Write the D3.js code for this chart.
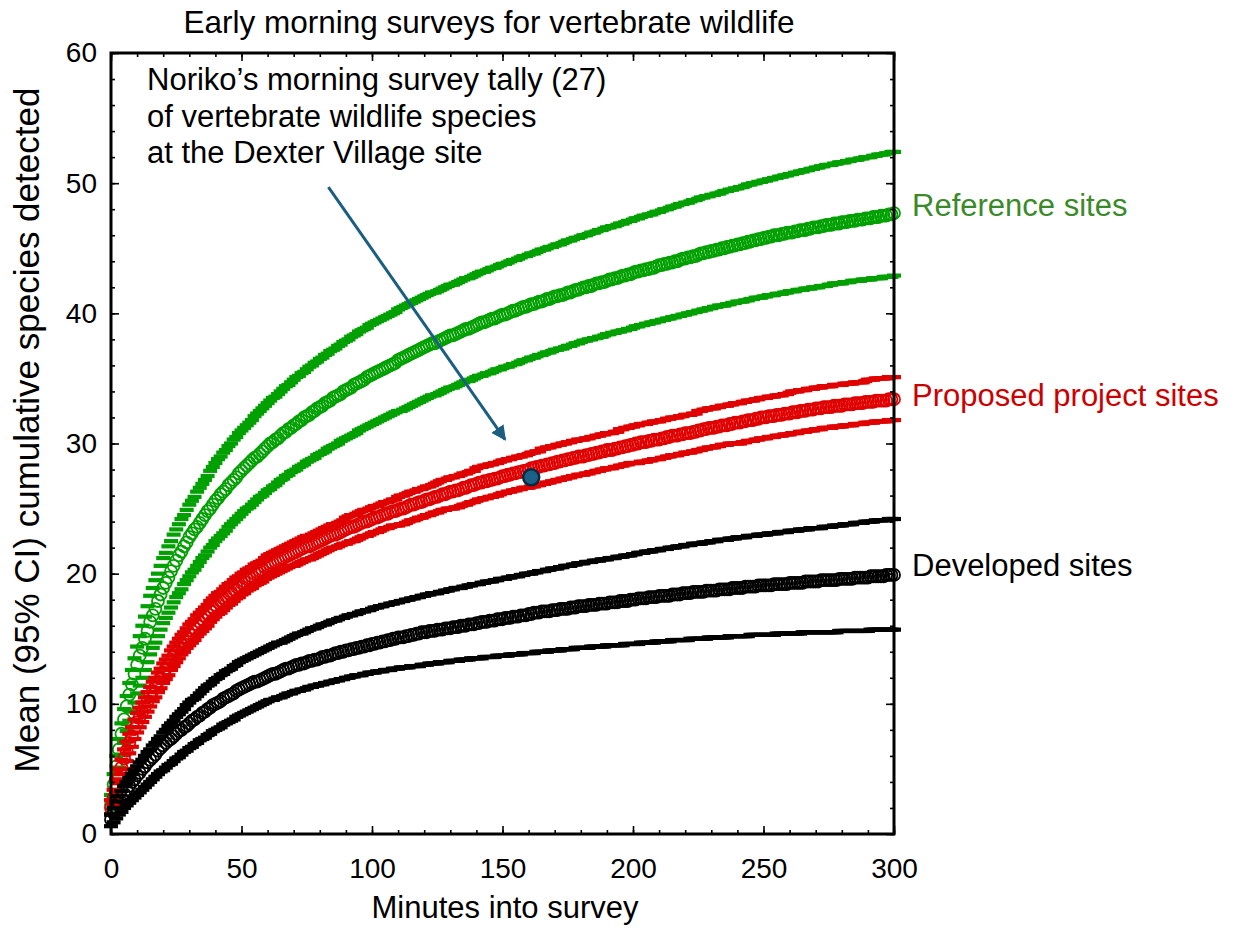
<!DOCTYPE html>
<html>
<head>
<meta charset="utf-8">
<title>Early morning surveys for vertebrate wildlife</title>
<script src="https://d3js.org/d3.v7.min.js"></script>
<style>
body { margin: 0; background: #ffffff; }
text { font-family: 'Liberation Sans', Arial, sans-serif; }
</style>
</head>
<body>
<script>
'use strict'

// cumulative species by minute (index = minute 0..300)
const refUpper = [3.0,4.6,6.0,7.3,8.5,9.6,10.6,11.6,12.6,13.5,14.4,
15.2,16.0,16.7,17.5,18.3,18.9,19.5,20.0,20.6,21.2,
21.6,22.1,22.5,23.0,23.4,23.8,24.2,24.5,24.9,25.3,
25.6,25.9,26.3,26.6,26.9,27.2,27.5,27.9,28.2,28.5,
28.8,29.0,29.3,29.5,29.8,30.0,30.3,30.5,30.8,31.0,
31.2,31.4,31.6,31.8,32.1,32.3,32.5,32.7,32.9,33.1,
33.3,33.5,33.6,33.8,34.0,34.2,34.4,34.5,34.7,34.9,
35.1,35.2,35.4,35.5,35.7,35.9,36.0,36.2,36.3,36.5,
36.6,36.8,36.9,37.1,37.2,37.3,37.5,37.6,37.8,37.9,
38.0,38.2,38.3,38.4,38.6,38.7,38.8,38.9,39.1,39.2,
39.3,39.4,39.5,39.6,39.7,39.8,39.9,40.0,40.1,40.3,
40.4,40.5,40.6,40.7,40.8,40.9,41.0,41.1,41.2,41.3,
41.4,41.5,41.6,41.6,41.7,41.8,41.9,42.0,42.1,42.2,
42.2,42.3,42.4,42.5,42.6,42.7,42.7,42.8,42.9,43.0,
43.1,43.2,43.2,43.3,43.4,43.5,43.5,43.6,43.7,43.8,
43.8,43.9,44.0,44.1,44.1,44.2,44.3,44.4,44.4,44.5,
44.6,44.6,44.7,44.8,44.9,44.9,45.0,45.1,45.1,45.2,
45.3,45.3,45.4,45.5,45.6,45.6,45.7,45.8,45.8,45.9,
46.0,46.0,46.1,46.2,46.2,46.3,46.4,46.4,46.5,46.6,
46.6,46.7,46.7,46.8,46.9,46.9,47.0,47.1,47.1,47.2,
47.3,47.3,47.4,47.5,47.5,47.6,47.6,47.7,47.8,47.8,
47.9,48.0,48.0,48.1,48.2,48.2,48.3,48.4,48.4,48.5,
48.5,48.6,48.7,48.7,48.8,48.9,48.9,49.0,49.0,49.1,
49.1,49.2,49.2,49.3,49.4,49.4,49.5,49.5,49.6,49.6,
49.7,49.7,49.8,49.9,49.9,50.0,50.0,50.1,50.1,50.2,
50.2,50.3,50.3,50.4,50.4,50.5,50.5,50.6,50.6,50.7,
50.7,50.8,50.8,50.9,50.9,51.0,51.0,51.1,51.1,51.2,
51.2,51.3,51.3,51.4,51.4,51.4,51.5,51.5,51.6,51.6,
51.6,51.7,51.7,51.8,51.8,51.8,51.9,51.9,52.0,52.0,
52.0,52.1,52.1,52.2,52.2,52.2,52.3,52.3,52.4,52.4]

const refMean = [2.2,3.8,5.2,6.5,7.7,8.8,9.8,10.7,11.5,12.3,13.0,
13.7,14.3,15.0,15.6,16.3,16.8,17.3,17.9,18.4,18.9,
19.3,19.7,20.2,20.6,21.0,21.4,21.7,22.1,22.4,22.8,
23.1,23.4,23.6,23.9,24.2,24.5,24.8,25.0,25.3,25.6,
25.8,26.1,26.3,26.5,26.8,27.0,27.2,27.4,27.7,27.9,
28.1,28.3,28.5,28.7,28.9,29.0,29.2,29.4,29.6,29.8,
30.0,30.1,30.3,30.4,30.6,30.8,30.9,31.1,31.2,31.4,
31.5,31.7,31.8,32.0,32.1,32.2,32.4,32.5,32.7,32.8,
32.9,33.1,33.2,33.3,33.5,33.6,33.7,33.8,34.0,34.1,
34.2,34.3,34.5,34.6,34.7,34.8,34.9,35.1,35.2,35.3,
35.4,35.5,35.6,35.7,35.8,35.9,36.0,36.1,36.2,36.4,
36.5,36.6,36.7,36.8,36.9,37.0,37.1,37.2,37.3,37.4,
37.5,37.6,37.7,37.7,37.8,37.9,38.0,38.1,38.2,38.3,
38.3,38.4,38.5,38.6,38.7,38.8,38.8,38.9,39.0,39.1,
39.2,39.3,39.3,39.4,39.5,39.6,39.6,39.7,39.8,39.9,
39.9,40.0,40.1,40.2,40.2,40.3,40.4,40.5,40.5,40.6,
40.7,40.7,40.8,40.9,40.9,41.0,41.1,41.1,41.2,41.3,
41.3,41.4,41.4,41.5,41.6,41.6,41.7,41.8,41.8,41.9,
42.0,42.0,42.1,42.1,42.2,42.3,42.3,42.4,42.4,42.5,
42.6,42.6,42.7,42.7,42.8,42.9,42.9,43.0,43.0,43.1,
43.2,43.2,43.3,43.3,43.4,43.4,43.5,43.5,43.6,43.7,
43.7,43.8,43.8,43.9,43.9,44.0,44.0,44.1,44.2,44.2,
44.3,44.3,44.4,44.4,44.5,44.6,44.6,44.7,44.7,44.8,
44.8,44.9,44.9,45.0,45.0,45.1,45.1,45.2,45.2,45.3,
45.3,45.4,45.4,45.5,45.5,45.6,45.6,45.7,45.7,45.8,
45.8,45.9,45.9,46.0,46.0,46.0,46.1,46.1,46.2,46.2,
46.2,46.3,46.3,46.4,46.4,46.4,46.5,46.5,46.6,46.6,
46.6,46.7,46.7,46.8,46.8,46.8,46.9,46.9,46.9,47.0,
47.0,47.0,47.1,47.1,47.1,47.2,47.2,47.2,47.3,47.3,
47.3,47.4,47.4,47.4,47.5,47.5,47.5,47.6,47.6,47.7]

const refLower = [1.5,2.8,4.0,5.1,6.1,7.0,7.9,8.7,9.4,10.1,10.8,
11.4,12.0,12.6,13.2,13.8,14.3,14.7,15.2,15.7,16.2,
16.6,17.0,17.4,17.8,18.2,18.5,18.8,19.2,19.5,19.8,
20.1,20.3,20.6,20.9,21.2,21.4,21.7,22.0,22.2,22.5,
22.7,22.9,23.1,23.3,23.6,23.8,24.0,24.2,24.4,24.6,
24.8,25.0,25.1,25.3,25.5,25.7,25.9,26.0,26.2,26.4,
26.5,26.7,26.8,27.0,27.2,27.3,27.5,27.6,27.8,27.9,
28.0,28.2,28.3,28.4,28.6,28.7,28.8,28.9,29.1,29.2,
29.3,29.4,29.6,29.7,29.8,29.9,30.0,30.2,30.3,30.4,
30.5,30.6,30.7,30.8,31.0,31.1,31.2,31.3,31.4,31.5,
31.6,31.7,31.8,31.9,32.0,32.1,32.2,32.3,32.4,32.5,
32.5,32.6,32.7,32.8,32.9,33.0,33.1,33.2,33.3,33.4,
33.5,33.6,33.7,33.7,33.8,33.9,34.0,34.1,34.2,34.3,
34.3,34.4,34.5,34.6,34.7,34.8,34.8,34.9,35.0,35.1,
35.2,35.2,35.3,35.4,35.4,35.5,35.6,35.7,35.7,35.8,
35.9,35.9,36.0,36.1,36.1,36.2,36.3,36.4,36.4,36.5,
36.6,36.6,36.7,36.8,36.8,36.9,37.0,37.0,37.1,37.2,
37.2,37.3,37.3,37.4,37.5,37.5,37.6,37.7,37.7,37.8,
37.9,37.9,38.0,38.0,38.1,38.1,38.2,38.2,38.3,38.4,
38.4,38.5,38.5,38.6,38.6,38.7,38.7,38.8,38.8,38.9,
39.0,39.0,39.1,39.1,39.2,39.2,39.3,39.3,39.4,39.4,
39.5,39.5,39.6,39.6,39.7,39.7,39.8,39.8,39.9,39.9,
40.0,40.0,40.1,40.1,40.2,40.2,40.3,40.3,40.4,40.4,
40.5,40.5,40.6,40.6,40.6,40.7,40.7,40.8,40.8,40.9,
40.9,40.9,41.0,41.0,41.1,41.1,41.2,41.2,41.2,41.3,
41.3,41.4,41.4,41.4,41.5,41.5,41.5,41.6,41.6,41.7,
41.7,41.7,41.8,41.8,41.8,41.9,41.9,41.9,42.0,42.0,
42.0,42.1,42.1,42.1,42.2,42.2,42.3,42.3,42.3,42.3,
42.4,42.4,42.4,42.5,42.5,42.5,42.5,42.6,42.6,42.6,
42.6,42.7,42.7,42.7,42.7,42.8,42.8,42.8,42.8,42.9]

const propUpper = [2.6,3.4,4.2,5.0,5.7,6.5,7.1,7.7,8.2,8.8,9.3,
9.7,10.1,10.5,10.9,11.3,11.7,12.0,12.4,12.7,13.1,
13.4,13.7,14.1,14.4,14.7,15.0,15.3,15.5,15.8,16.1,
16.3,16.5,16.8,17.0,17.2,17.4,17.6,17.9,18.1,18.3,
18.5,18.6,18.8,19.0,19.2,19.3,19.5,19.7,19.8,20.0,
20.1,20.3,20.4,20.5,20.7,20.8,20.9,21.0,21.2,21.4,
21.5,21.6,21.7,21.8,21.9,22.0,22.1,22.2,22.3,22.4,
22.5,22.6,22.7,22.8,22.9,22.9,23.0,23.1,23.2,23.3,
23.4,23.5,23.6,23.7,23.8,23.8,23.9,24.0,24.1,24.3,
24.4,24.5,24.5,24.6,24.7,24.8,24.9,24.9,25.0,25.1,
25.2,25.2,25.3,25.4,25.5,25.5,25.6,25.7,25.7,25.9,
26.0,26.0,26.1,26.2,26.3,26.3,26.4,26.5,26.5,26.6,
26.7,26.7,26.8,26.9,27.0,27.1,27.2,27.2,27.3,27.4,
27.4,27.5,27.5,27.6,27.7,27.7,27.8,27.9,27.9,28.1,
28.2,28.2,28.3,28.3,28.4,28.4,28.5,28.5,28.6,28.7,
28.7,28.8,28.8,28.9,28.9,29.0,29.0,29.1,29.1,29.2,
29.3,29.3,29.4,29.4,29.6,29.6,29.7,29.7,29.8,29.8,
29.9,29.9,30.0,30.0,30.1,30.1,30.2,30.2,30.3,30.3,
30.3,30.4,30.4,30.5,30.5,30.6,30.6,30.7,30.7,30.8,
30.8,30.8,30.9,30.9,31.1,31.1,31.2,31.2,31.3,31.3,
31.4,31.4,31.5,31.5,31.5,31.6,31.6,31.7,31.7,31.7,
31.8,31.8,31.9,31.9,32.0,32.0,32.0,32.1,32.1,32.2,
32.2,32.2,32.3,32.3,32.5,32.5,32.6,32.6,32.7,32.7,
32.7,32.8,32.8,32.9,32.9,32.9,33.0,33.0,33.1,33.1,
33.1,33.2,33.2,33.3,33.3,33.3,33.4,33.4,33.5,33.5,
33.5,33.6,33.6,33.6,33.7,33.7,33.7,33.8,33.8,33.9,
34.0,34.0,34.0,34.1,34.1,34.1,34.2,34.2,34.2,34.3,
34.3,34.3,34.4,34.4,34.4,34.4,34.5,34.5,34.5,34.5,
34.6,34.6,34.6,34.6,34.7,34.7,34.7,34.7,34.8,34.9,
34.9,34.9,35.0,35.0,35.0,35.0,35.0,35.1,35.1,35.1]

const propMean = [2.0,2.8,3.6,4.4,5.1,5.8,6.4,7.0,7.5,8.1,8.6,
9.0,9.4,9.8,10.2,10.6,11.0,11.3,11.7,12.0,12.4,
12.7,13.0,13.4,13.7,14.0,14.3,14.6,14.8,15.1,15.4,
15.6,15.8,16.1,16.3,16.5,16.7,16.9,17.2,17.4,17.6,
17.8,17.9,18.1,18.3,18.5,18.6,18.8,19.0,19.1,19.3,
19.4,19.6,19.7,19.8,20.0,20.1,20.2,20.3,20.5,20.6,
20.7,20.8,20.9,21.0,21.1,21.2,21.3,21.4,21.5,21.6,
21.7,21.8,21.9,22.0,22.1,22.1,22.2,22.3,22.4,22.5,
22.6,22.7,22.8,22.9,23.0,23.0,23.1,23.2,23.3,23.4,
23.5,23.6,23.6,23.7,23.8,23.9,24.0,24.0,24.1,24.2,
24.3,24.3,24.4,24.5,24.6,24.6,24.7,24.8,24.8,24.9,
25.0,25.0,25.1,25.2,25.3,25.3,25.4,25.5,25.5,25.6,
25.7,25.7,25.8,25.9,25.9,26.0,26.1,26.1,26.2,26.3,
26.3,26.4,26.4,26.5,26.6,26.6,26.7,26.8,26.8,26.9,
27.0,27.0,27.1,27.1,27.2,27.2,27.3,27.3,27.4,27.5,
27.5,27.6,27.6,27.7,27.7,27.8,27.8,27.9,27.9,28.0,
28.1,28.1,28.2,28.2,28.3,28.3,28.4,28.4,28.5,28.5,
28.6,28.6,28.7,28.7,28.8,28.8,28.9,28.9,29.0,29.0,
29.0,29.1,29.1,29.2,29.2,29.3,29.3,29.4,29.4,29.5,
29.5,29.5,29.6,29.6,29.7,29.7,29.8,29.8,29.9,29.9,
30.0,30.0,30.1,30.1,30.1,30.2,30.2,30.3,30.3,30.3,
30.4,30.4,30.5,30.5,30.6,30.6,30.6,30.7,30.7,30.8,
30.8,30.8,30.9,30.9,31.0,31.0,31.1,31.1,31.2,31.2,
31.2,31.3,31.3,31.4,31.4,31.4,31.5,31.5,31.6,31.6,
31.6,31.7,31.7,31.8,31.8,31.8,31.9,31.9,32.0,32.0,
32.0,32.1,32.1,32.1,32.2,32.2,32.2,32.3,32.3,32.3,
32.4,32.4,32.4,32.5,32.5,32.5,32.6,32.6,32.6,32.7,
32.7,32.7,32.8,32.8,32.8,32.8,32.9,32.9,32.9,32.9,
33.0,33.0,33.0,33.0,33.1,33.1,33.1,33.1,33.2,33.2,
33.2,33.2,33.3,33.3,33.3,33.3,33.3,33.4,33.4,33.4]

const propLower = [1.5,2.3,3.1,3.9,4.6,5.0,5.6,6.2,6.7,7.3,7.8,
8.2,8.6,9.0,9.4,9.8,10.2,10.5,10.9,11.2,11.6,
11.9,12.2,12.6,12.9,13.2,13.5,13.8,14.0,14.3,14.5,
14.7,14.9,15.2,15.4,15.6,15.8,16.0,16.3,16.5,16.7,
16.9,17.0,17.2,17.4,17.6,17.7,17.9,18.1,18.2,18.4,
18.5,18.7,18.8,18.9,19.1,19.2,19.3,19.4,19.6,19.7,
19.8,19.9,20.0,20.1,20.2,20.3,20.4,20.5,20.6,20.6,
20.7,20.8,20.9,21.0,21.1,21.1,21.2,21.3,21.4,21.5,
21.6,21.7,21.8,21.9,22.0,22.0,22.1,22.2,22.3,22.3,
22.4,22.5,22.5,22.6,22.7,22.8,22.9,22.9,23.0,23.1,
23.2,23.2,23.3,23.4,23.5,23.5,23.6,23.7,23.7,23.7,
23.8,23.8,23.9,24.0,24.1,24.1,24.2,24.3,24.3,24.4,
24.5,24.5,24.6,24.7,24.7,24.8,24.9,24.9,25.0,25.0,
25.0,25.1,25.1,25.2,25.3,25.3,25.4,25.5,25.5,25.6,
25.7,25.7,25.8,25.8,25.9,25.9,26.0,26.0,26.1,26.2,
26.2,26.3,26.3,26.4,26.4,26.5,26.5,26.6,26.6,26.6,
26.7,26.7,26.8,26.8,26.9,26.9,27.0,27.0,27.1,27.1,
27.2,27.2,27.3,27.3,27.4,27.4,27.5,27.5,27.6,27.6,
27.6,27.7,27.7,27.8,27.8,27.9,27.9,28.0,28.0,28.1,
28.1,28.1,28.2,28.2,28.3,28.3,28.4,28.4,28.5,28.5,
28.5,28.5,28.6,28.6,28.6,28.7,28.7,28.8,28.8,28.8,
28.9,28.9,29.0,29.0,29.1,29.1,29.1,29.2,29.2,29.3,
29.3,29.3,29.4,29.4,29.5,29.5,29.6,29.6,29.7,29.7,
29.7,29.8,29.8,29.9,29.9,29.9,30.0,30.0,30.0,30.0,
30.0,30.1,30.1,30.2,30.2,30.2,30.3,30.3,30.4,30.4,
30.4,30.5,30.5,30.5,30.6,30.6,30.6,30.7,30.7,30.7,
30.8,30.8,30.8,30.9,30.9,30.9,31.0,31.0,31.0,31.1,
31.1,31.1,31.2,31.2,31.2,31.2,31.3,31.3,31.3,31.3,
31.4,31.4,31.4,31.4,31.5,31.5,31.5,31.5,31.6,31.6,
31.6,31.6,31.7,31.7,31.7,31.7,31.7,31.8,31.8,31.8]

const devUpper = [1.5,2.0,2.5,2.9,3.3,3.7,4.0,4.3,4.6,4.9,5.2,
5.5,5.7,6.0,6.3,6.5,6.8,7.0,7.3,7.5,7.8,
8.0,8.3,8.5,8.7,9.0,9.2,9.4,9.6,9.9,10.1,
10.3,10.4,10.6,10.8,11.0,11.2,11.4,11.5,11.7,11.9,
12.0,12.2,12.3,12.5,12.6,12.7,12.9,13.0,13.2,13.3,
13.4,13.5,13.6,13.7,13.8,13.9,14.0,14.1,14.2,14.3,
14.4,14.5,14.6,14.7,14.7,14.8,14.9,15.0,15.1,15.2,
15.3,15.4,15.4,15.5,15.6,15.7,15.8,15.8,15.9,16.0,
16.1,16.1,16.2,16.3,16.4,16.4,16.5,16.6,16.6,16.7,
16.8,16.8,16.9,16.9,17.0,17.1,17.1,17.2,17.2,17.3,
17.4,17.4,17.5,17.5,17.6,17.6,17.7,17.7,17.8,17.8,
17.9,17.9,18.0,18.0,18.1,18.1,18.2,18.2,18.3,18.3,
18.4,18.4,18.5,18.5,18.5,18.6,18.6,18.7,18.7,18.8,
18.8,18.9,18.9,18.9,19.0,19.0,19.1,19.1,19.2,19.2,
19.2,19.3,19.3,19.4,19.4,19.4,19.5,19.5,19.6,19.6,
19.6,19.7,19.7,19.8,19.8,19.8,19.9,19.9,20.0,20.0,
20.0,20.1,20.1,20.2,20.2,20.2,20.3,20.3,20.4,20.4,
20.4,20.5,20.5,20.6,20.6,20.6,20.7,20.7,20.8,20.8,
20.8,20.9,20.9,20.9,21.0,21.0,21.0,21.1,21.1,21.1,
21.2,21.2,21.2,21.3,21.3,21.3,21.4,21.4,21.4,21.5,
21.5,21.6,21.6,21.6,21.7,21.7,21.7,21.8,21.8,21.8,
21.9,21.9,21.9,22.0,22.0,22.0,22.1,22.1,22.1,22.2,
22.2,22.2,22.3,22.3,22.3,22.3,22.4,22.4,22.4,22.5,
22.5,22.5,22.6,22.6,22.6,22.6,22.7,22.7,22.7,22.8,
22.8,22.8,22.8,22.9,22.9,22.9,22.9,23.0,23.0,23.0,
23.0,23.1,23.1,23.1,23.1,23.2,23.2,23.2,23.2,23.3,
23.3,23.3,23.3,23.4,23.4,23.4,23.4,23.5,23.5,23.5,
23.5,23.5,23.6,23.6,23.6,23.6,23.7,23.7,23.7,23.7,
23.8,23.8,23.8,23.8,23.9,23.9,23.9,23.9,24.0,24.0,
24.0,24.0,24.1,24.1,24.1,24.1,24.1,24.2,24.2,24.2]

const devMean = [1.1,1.6,2.0,2.4,2.8,3.1,3.4,3.7,4.0,4.2,4.5,
4.7,5.0,5.2,5.5,5.7,5.9,6.1,6.4,6.6,6.8,
7.0,7.2,7.3,7.5,7.7,7.9,8.0,8.2,8.3,8.5,
8.7,8.8,9.0,9.1,9.3,9.4,9.6,9.7,9.9,10.0,
10.1,10.2,10.4,10.5,10.6,10.7,10.8,11.0,11.1,11.2,
11.3,11.4,11.5,11.6,11.7,11.7,11.8,11.9,12.0,12.1,
12.2,12.3,12.3,12.4,12.5,12.6,12.7,12.7,12.8,12.9,
13.0,13.0,13.1,13.1,13.2,13.3,13.3,13.4,13.4,13.5,
13.6,13.6,13.7,13.7,13.8,13.9,13.9,14.0,14.0,14.1,
14.1,14.2,14.2,14.3,14.3,14.4,14.4,14.5,14.5,14.6,
14.6,14.7,14.7,14.8,14.8,14.9,14.9,15.0,15.0,15.1,
15.1,15.1,15.2,15.2,15.3,15.3,15.4,15.4,15.5,15.5,
15.5,15.6,15.6,15.6,15.7,15.7,15.7,15.8,15.8,15.8,
15.9,15.9,15.9,16.0,16.0,16.0,16.1,16.1,16.1,16.2,
16.2,16.3,16.3,16.3,16.4,16.4,16.4,16.5,16.5,16.5,
16.6,16.6,16.6,16.7,16.7,16.7,16.8,16.8,16.8,16.9,
16.9,17.0,17.0,17.0,17.1,17.1,17.1,17.1,17.2,17.2,
17.2,17.3,17.3,17.3,17.3,17.4,17.4,17.4,17.5,17.5,
17.5,17.5,17.6,17.6,17.6,17.6,17.7,17.7,17.7,17.7,
17.8,17.8,17.8,17.8,17.9,17.9,17.9,17.9,18.0,18.0,
18.0,18.1,18.1,18.1,18.1,18.2,18.2,18.2,18.2,18.3,
18.3,18.3,18.3,18.3,18.4,18.4,18.4,18.4,18.5,18.5,
18.5,18.5,18.6,18.6,18.6,18.6,18.6,18.7,18.7,18.7,
18.7,18.7,18.8,18.8,18.8,18.8,18.8,18.9,18.9,18.9,
18.9,18.9,19.0,19.0,19.0,19.0,19.0,19.1,19.1,19.1,
19.1,19.1,19.1,19.2,19.2,19.2,19.2,19.2,19.2,19.3,
19.3,19.3,19.3,19.3,19.3,19.4,19.4,19.4,19.4,19.4,
19.4,19.5,19.5,19.5,19.5,19.5,19.5,19.5,19.6,19.6,
19.6,19.6,19.6,19.6,19.7,19.7,19.7,19.7,19.7,19.7,
19.8,19.8,19.8,19.8,19.8,19.8,19.9,19.9,19.9,19.9]

const devLower = [0.6,0.9,1.2,1.5,1.7,2.0,2.2,2.4,2.6,2.8,3.0,
3.2,3.4,3.6,3.8,4.0,4.2,4.4,4.6,4.8,4.9,
5.1,5.3,5.4,5.6,5.8,5.9,6.1,6.3,6.4,6.6,
6.7,6.9,7.0,7.2,7.3,7.4,7.6,7.7,7.9,8.0,
8.1,8.2,8.4,8.5,8.6,8.7,8.8,9.0,9.1,9.2,
9.3,9.4,9.5,9.6,9.7,9.8,9.9,10.0,10.1,10.2,
10.3,10.3,10.4,10.5,10.5,10.6,10.7,10.8,10.8,10.9,
11.0,11.0,11.1,11.1,11.2,11.3,11.3,11.4,11.4,11.5,
11.5,11.6,11.6,11.7,11.7,11.8,11.8,11.9,11.9,12.0,
12.0,12.1,12.1,12.2,12.2,12.2,12.3,12.3,12.4,12.4,
12.4,12.5,12.5,12.5,12.6,12.6,12.6,12.7,12.7,12.7,
12.8,12.8,12.8,12.8,12.9,12.9,12.9,12.9,13.0,13.0,
13.0,13.1,13.1,13.1,13.1,13.2,13.2,13.2,13.2,13.3,
13.3,13.3,13.3,13.4,13.4,13.4,13.4,13.5,13.5,13.5,
13.5,13.5,13.6,13.6,13.6,13.6,13.6,13.7,13.7,13.7,
13.7,13.7,13.8,13.8,13.8,13.8,13.8,13.9,13.9,13.9,
13.9,13.9,14.0,14.0,14.0,14.0,14.0,14.1,14.1,14.1,
14.1,14.1,14.2,14.2,14.2,14.2,14.2,14.3,14.3,14.3,
14.3,14.3,14.3,14.4,14.4,14.4,14.4,14.4,14.4,14.5,
14.5,14.5,14.5,14.5,14.5,14.5,14.6,14.6,14.6,14.6,
14.6,14.6,14.7,14.7,14.7,14.7,14.7,14.7,14.8,14.8,
14.8,14.8,14.8,14.8,14.9,14.9,14.9,14.9,14.9,14.9,
14.9,15.0,15.0,15.0,15.0,15.0,15.0,15.0,15.1,15.1,
15.1,15.1,15.1,15.1,15.1,15.1,15.2,15.2,15.2,15.2,
15.2,15.2,15.2,15.2,15.3,15.3,15.3,15.3,15.3,15.3,
15.3,15.3,15.3,15.3,15.4,15.4,15.4,15.4,15.4,15.4,
15.4,15.4,15.4,15.4,15.5,15.5,15.5,15.5,15.5,15.5,
15.5,15.5,15.5,15.5,15.5,15.5,15.5,15.5,15.6,15.6,
15.6,15.6,15.6,15.6,15.6,15.6,15.6,15.6,15.6,15.6,
15.7,15.7,15.7,15.7,15.7,15.7,15.7,15.7,15.7,15.7]

// Noriko's tally at Dexter Village
const tallyMinute = 161
const tallySpecies = 27.4

const xTicksMajor = [0, 50, 100, 150, 200, 250, 300]
const yTicksMajor = [0, 10, 20, 30, 40, 50, 60]

const GREEN = '#00a000'
const RED = '#e00000'
const BLACK = '#000000'

const x = d3.scaleLinear().domain([0, 300]).range([111, 894])
const y = d3.scaleLinear().domain([0, 60]).range([834, 53])

const svg = d3.select('body').append('svg')
	.attr('width', 1234)
	.attr('height', 928)

svg.append('rect')
	.attr('width', '100%')
	.attr('height', '100%')
	.attr('fill', '#ffffff')

// series: circles for means, short bars for the 95% CI limits
const series = [
	{ values: refUpper, mark: 'bar', colour: GREEN },
	{ values: refLower, mark: 'bar', colour: GREEN },
	{ values: refMean, mark: 'circle', colour: GREEN },
	{ values: propUpper, mark: 'bar', colour: RED },
	{ values: propLower, mark: 'bar', colour: RED },
	{ values: propMean, mark: 'circle', colour: RED },
	{ values: devUpper, mark: 'bar', colour: BLACK },
	{ values: devLower, mark: 'bar', colour: BLACK },
	{ values: devMean, mark: 'circle', colour: BLACK }
]

const marks = svg.append('g')

series.forEach(function(s) {
	const g = marks.append('g')
	if (s.mark == 'circle') {
		g.selectAll('circle').data(s.values).join('circle')
			.attr('cx', function(d, i) { return x(i) })
			.attr('cy', function(d) { return y(d) })
			.attr('r', 6)
			.attr('fill', 'none')
			.attr('stroke', s.colour)
			.attr('stroke-width', 1.8)
	} else {
		g.selectAll('rect').data(s.values).join('rect')
			.attr('x', function(d, i) { return x(i) - 7 })
			.attr('y', function(d) { return y(d) - 2.1 })
			.attr('width', 14)
			.attr('height', 4.2)
			.attr('fill', s.colour)
	}
})

// axes: ticks point inward on all four sides
function styleAxis(g) {
	g.select('.domain').remove()
	g.selectAll('.tick line').attr('stroke', '#000').attr('stroke-width', 1.6)
	g.selectAll('.tick text')
		.attr('fill', '#000')
		.style('font-family', "'Liberation Sans', Arial, sans-serif")
		.style('font-size', '28px')
}

const xMinor = d3.range(0, 301, 10)
const yMinor = d3.range(0, 61, 2)

svg.append('g').attr('transform', 'translate(0,834)')
	.call(d3.axisBottom(x).tickValues(xMinor).tickSize(-4).tickFormat(''))
	.call(styleAxis)
svg.append('g').attr('transform', 'translate(0,834)')
	.call(d3.axisBottom(x).tickValues(xTicksMajor).tickSize(-8).tickPadding(24).tickFormat(d3.format('d')))
	.call(styleAxis)
svg.append('g').attr('transform', 'translate(0,53)')
	.call(d3.axisTop(x).tickValues(xMinor).tickSize(-4).tickFormat(''))
	.call(styleAxis)
svg.append('g').attr('transform', 'translate(0,53)')
	.call(d3.axisTop(x).tickValues(xTicksMajor).tickSize(-8).tickFormat(''))
	.call(styleAxis)

svg.append('g').attr('transform', 'translate(111,0)')
	.call(d3.axisLeft(y).tickValues(yMinor).tickSize(-4).tickFormat(''))
	.call(styleAxis)
svg.append('g').attr('transform', 'translate(111,0)')
	.call(d3.axisLeft(y).tickValues(yTicksMajor).tickSize(-8).tickPadding(14).tickFormat(d3.format('d')))
	.call(styleAxis)
svg.append('g').attr('transform', 'translate(894,0)')
	.call(d3.axisRight(y).tickValues(yMinor).tickSize(-4).tickFormat(''))
	.call(styleAxis)
svg.append('g').attr('transform', 'translate(894,0)')
	.call(d3.axisRight(y).tickValues(yTicksMajor).tickSize(-8).tickFormat(''))
	.call(styleAxis)

// plot frame
svg.append('rect')
	.attr('x', x(0))
	.attr('y', y(60))
	.attr('width', x(300) - x(0))
	.attr('height', y(0) - y(60))
	.attr('fill', 'none')
	.attr('stroke', '#000')
	.attr('stroke-width', 3)

// titles
svg.append('text')
	.attr('x', 489)
	.attr('y', 33)
	.attr('text-anchor', 'middle')
	.style('font-size', '31.5px')
	.text('Early morning surveys for vertebrate wildlife')

svg.append('text')
	.attr('x', 505)
	.attr('y', 918)
	.attr('text-anchor', 'middle')
	.style('font-size', '31px')
	.text('Minutes into survey')

svg.append('text')
	.attr('transform', 'translate(39,430) rotate(-90)')
	.attr('text-anchor', 'middle')
	.style('font-size', '35px')
	.text('Mean (95% CI) cumulative species detected')

// series labels at the right end of each mean curve
const labels = [
	{ text: 'Reference sites', value: refMean[300], colour: '#3b8a2a', dy: -5 },
	{ text: 'Proposed project sites', value: propMean[300], colour: '#cc0000', dy: -1 },
	{ text: 'Developed sites', value: devMean[300], colour: '#000000', dy: -7 }
]
svg.selectAll('.series-label').data(labels).join('text')
	.attr('class', 'series-label')
	.attr('x', 912)
	.attr('y', function(d) { return y(d.value) + d.dy })
	.attr('dominant-baseline', 'middle')
	.attr('fill', function(d) { return d.colour })
	.style('font-size', '31px')
	.text(function(d) { return d.text })

// annotation
const note = ['Noriko\u2019s morning survey tally (27)', 'of vertebrate wildlife species', 'at the Dexter Village site']
svg.selectAll('.note').data(note).join('text')
	.attr('class', 'note')
	.attr('x', 147)
	.attr('y', function(d, i) { return 90 + i * 36.5 })
	.style('font-size', '31px')
	.text(function(d) { return d })

svg.append('defs').append('marker')
	.attr('id', 'head')
	.attr('viewBox', '0 0 10 10')
	.attr('refX', 9)
	.attr('refY', 5)
	.attr('markerWidth', 5)
	.attr('markerHeight', 5)
	.attr('orient', 'auto')
	.append('path')
	.attr('d', 'M0,0 L10,5 L0,10 Z')
	.attr('fill', '#1b5e82')

svg.append('line')
	.attr('x1', x(83.3))
	.attr('y1', y(49.7))
	.attr('x2', x(151))
	.attr('y2', y(30.3))
	.attr('stroke', '#1b5e82')
	.attr('stroke-width', 3)
	.attr('marker-end', 'url(#head)')

svg.append('circle')
	.attr('cx', x(tallyMinute))
	.attr('cy', y(tallySpecies))
	.attr('r', 8)
	.attr('fill', '#1c6088')
	.attr('stroke', '#0b2a40')
	.attr('stroke-width', 2.5)
</script>
</body>
</html>
